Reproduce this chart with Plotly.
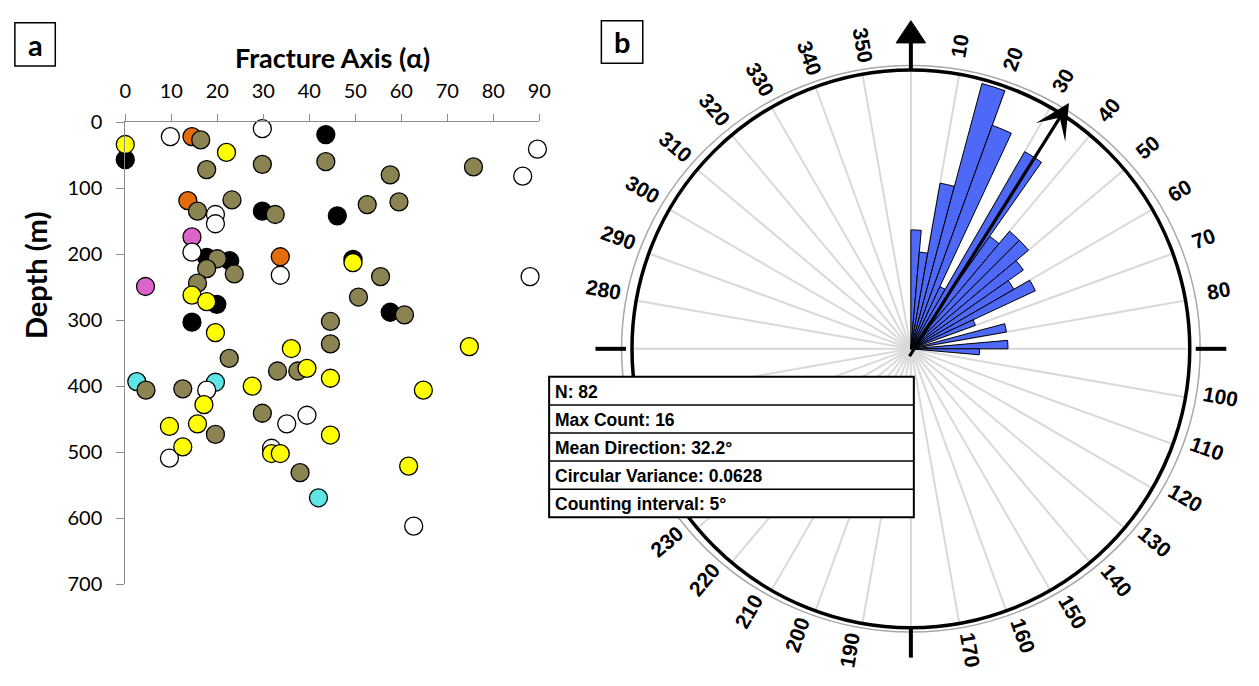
import numpy as np
import plotly.graph_objects as go

W, H = 1259, 686

# ---------------- Panel a data: fracture axis angle (deg) vs depth (m) ----------------
orange_alpha = [14.5, 13.6, 33.7]
orange_depth = [22, 119, 204]
pink_alpha = [14.5, 4.4]
pink_depth = [174, 249]
cyan_alpha = [2.5, 19.6, 42.0]
cyan_depth = [393, 394, 569]
black_alpha = [0, 43.6, 29.8, 46.1, 17.7, 22.7, 49.5, 19.9, 57.6, 14.5]
black_depth = [57, 19, 135, 142, 205, 210, 208, 276, 288, 303]
white_alpha = [9.8, 29.8, 89.6, 86.4, 19.6, 19.6, 14.5, 33.7, 88.0, 17.7, 39.5, 35.1, 9.6, 31.8, 62.7]
white_depth = [22, 10, 41, 82, 140, 154, 197, 232, 234, 406, 444, 457, 509, 494, 612]
olive_alpha = [16.4, 29.8, 43.6, 17.7, 57.6, 75.7, 15.7, 23.2, 32.6, 52.6, 59.5, 20.0, 17.7, 23.7,
               55.5, 15.7, 50.7, 60.7, 44.6, 44.6, 22.6, 33.1, 37.5, 4.5, 12.5, 29.8, 19.6, 38.0]
olive_depth = [27, 64, 60, 72, 80, 68, 135, 118, 140, 125, 121, 207, 222, 230,
               234, 244, 265, 292, 302, 336, 358, 377, 377, 406, 404, 441, 473, 531]
yellow_alpha = [0, 22, 49.5, 14.5, 17.7, 19.6, 74.8, 36.1, 39.5, 44.6, 27.6, 64.8, 17.1, 9.6,
                15.7, 44.6, 12.5, 31.8, 33.7, 61.6]
yellow_depth = [34, 46, 213, 262, 272, 319, 340, 343, 373, 388, 400, 406, 428, 461,
                457, 474, 492, 502, 502, 521]

x_ticks = list(range(0, 91, 10))
y_ticks = list(range(0, 701, 100))

# ---------------- Panel b data: rose diagram (5 deg bins) ----------------
bin_start = list(range(0, 95, 5))
bin_count = [3, 2, 6, 16, 12, 1, 11, 4, 5, 5, 4, 3, 4, 1, 0, 2, 0, 2, 1]
angle_labels = [a for a in range(10, 360, 10) if a not in (90, 180, 270, 240, 250, 260)]
stats_lines = ["N: 82", "Max Count: 16", "Mean Direction: 32.2°",
               "Circular Variance: 0.0628", "Counting interval: 5°"]
mean_direction = 32.2
max_count = 16

# ---------------- helpers ----------------
def px(x):
    return x / W

def py(y):
    return 1 - y / H

fig = go.Figure()

groups = [
    (orange_alpha, orange_depth, "#E46C0A"),
    (pink_alpha, pink_depth, "#DC64C8"),
    (cyan_alpha, cyan_depth, "#5EE6E6"),
    (black_alpha, black_depth, "#000000"),
    (white_alpha, white_depth, "#FFFFFF"),
    (olive_alpha, olive_depth, "#8C8352"),
    (yellow_alpha, yellow_depth, "#FFFF00"),
]
for a, d, c in groups:
    fig.add_trace(go.Scatter(
        x=a, y=d, mode="markers", cliponaxis=False, showlegend=False,
        marker=dict(size=18, color=c, line=dict(color="black", width=1.3)),
        xaxis="x", yaxis="y"))

axis_font = dict(family="Lato", size=20, color="black")
fig.update_layout(
    xaxis=dict(domain=[px(121), px(541)], range=[0, 90], side="top", anchor="y",
               tickvals=x_ticks, showline=True, linecolor="#8c8c8c", linewidth=1,
               ticks="outside", ticklen=7, tickcolor="#8c8c8c", showgrid=False,
               zeroline=False, tickfont=axis_font, ticklabelstandoff=8),
    yaxis=dict(domain=[py(592), py(113)], range=[700, 0], anchor="x",
               tickvals=y_ticks, showline=True, linecolor="#8c8c8c", linewidth=1,
               ticks="outside", ticklen=8, tickcolor="#8c8c8c", showgrid=False,
               zeroline=False, tickfont=axis_font, ticklabelstandoff=10),
)

# ---------------- rose diagram ----------------
cx, cy, R = 918, 348, 289
r_max_px = 284.6  # pixel radius of the max-count bar (equal-area scaling)
theta = [b + 2.5 for b in bin_start]
fig.add_trace(go.Barpolar(
    r=np.sqrt(bin_count), theta=theta, width=[5] * len(bin_count),
    marker=dict(color="#4E68F8", line=dict(color="black", width=1)),
    showlegend=False, subplot="polar"))

fig.update_layout(
    polar=dict(
        domain=dict(x=[px(cx - R), px(cx + R)], y=[py(cy + R), py(cy - R)]),
        bgcolor="white", hole=0,
        radialaxis=dict(visible=False, range=[0, np.sqrt(max_count) * R / r_max_px]),
        angularaxis=dict(rotation=90, direction="clockwise", tickmode="linear",
                         tick0=0, dtick=10, showticklabels=False, ticks="",
                         showgrid=True, gridcolor="#d9d9d9", gridwidth=1.5,
                         showline=True, linecolor="black", linewidth=3.5),
    ),
    bargap=0,
)

shapes = []
ann = []

# outer grey ring
Rg = 293.5
shapes.append(dict(type="circle", xref="paper", yref="paper", layer="above",
                   x0=px(cx - Rg), x1=px(cx + Rg), y0=py(cy + Rg), y1=py(cy - Rg),
                   line=dict(color="#a8a8a8", width=1.5)))
# compass ticks
tl = 31
for (x0, y0, x1, y1) in [(cx + R, cy, cx + R + tl, cy), (cx - R - tl, cy, cx - R, cy),
                         (cx, cy + R, cx, cy + R + tl), (cx, cy - R, cx, cy - R - 30)]:
    shapes.append(dict(type="line", xref="paper", yref="paper", layer="above",
                       x0=px(x0), y0=py(y0), x1=px(x1), y1=py(y1),
                       line=dict(color="black", width=4)))
# north arrow head
tip_y, base_y, hw = 8, 31, 15
shapes.append(dict(type="path", xref="paper", yref="paper", layer="above",
                   path=f"M {px(cx)} {py(tip_y)} L {px(cx - hw)} {py(base_y)} L {px(cx + hw)} {py(base_y)} Z",
                   fillcolor="black", line=dict(color="black", width=1)))

# angle labels
lab_font = dict(family="Liberation Sans", size=21, color="black")
r_lab = 318
for a in angle_labels:
    ap = a - 1.0 if a < 180 else a + 1.2
    t = np.radians(ap)
    x = cx + r_lab * np.sin(t)
    y = cy - r_lab * np.cos(t)
    ta = a - 90 if a < 180 else a - 270
    ann.append(dict(x=px(x), y=py(y), xref="paper", yref="paper", text=f"<b>{a}</b>",
                    showarrow=False, textangle=ta, font=lab_font,
                    xanchor="center", yanchor="middle"))

# mean direction arrow
r_arrow = 301
t = np.radians(mean_direction)
tipx, tipy = cx + r_arrow * np.sin(t), cy - r_arrow * np.cos(t)
ann.append(dict(x=px(tipx), y=py(tipy), xref="paper", yref="paper", text="",
                showarrow=True, ax=cx - tipx, ay=cy - tipy, axref="pixel", ayref="pixel",
                arrowhead=3, arrowsize=1.8, arrowwidth=3.2, arrowcolor="black", standoff=0))

# stats box
bx0, bx1, by0 = 551, 921, 377
row_h = 29.1
shapes.append(dict(type="rect", xref="paper", yref="paper", layer="above",
                   x0=px(bx0), x1=px(bx1), y0=py(by0), y1=py(by0 + row_h * len(stats_lines)),
                   fillcolor="white", line=dict(color="black", width=2)))
for i, s in enumerate(stats_lines):
    if i > 0:
        yy = by0 + row_h * i
        shapes.append(dict(type="line", xref="paper", yref="paper", layer="above",
                           x0=px(bx0), x1=px(bx1), y0=py(yy), y1=py(yy),
                           line=dict(color="black", width=1.5)))
    ann.append(dict(x=px(bx0 + 4), y=py(by0 + row_h * (i + 0.5) + 1), xref="paper", yref="paper",
                    text=f"<b>{s}</b>", showarrow=False, xanchor="left", yanchor="middle",
                    font=dict(family="Liberation Sans", size=17.5, color="black")))

# panel labels
for (x0, y0, x1, y1, lab) in [(9, 10, 50, 55, "a"), (604, 8, 646, 52, "b")]:
    shapes.append(dict(type="rect", xref="paper", yref="paper", layer="above",
                       x0=px(x0), x1=px(x1), y0=py(y1), y1=py(y0),
                       fillcolor="white", line=dict(color="black", width=1.5)))
    ann.append(dict(x=px((x0 + x1) / 2), y=py((y0 + y1) / 2), xref="paper", yref="paper",
                    text=f"<b>{lab}</b>", showarrow=False, xanchor="center", yanchor="middle",
                    font=dict(family="Lato", size=29, color="black")))

# axis titles for panel a
ann.append(dict(x=px(331), y=py(46), xref="paper", yref="paper", text="<b>Fracture Axis (α)</b>",
                showarrow=False, xanchor="center", yanchor="middle",
                font=dict(family="Lato", size=27, color="black")))
ann.append(dict(x=px(30), y=py(272), xref="paper", yref="paper", text="<b>Depth (m)</b>",
                showarrow=False, textangle=-90, xanchor="center", yanchor="middle",
                font=dict(family="Lato", size=29, color="black")))

fig.update_layout(width=W, height=H, margin=dict(l=0, r=0, t=0, b=0),
                  paper_bgcolor="white", plot_bgcolor="white",
                  shapes=shapes, annotations=ann)

fig.write_html("out.html",
               post_script="document.body.style.margin='0px';document.body.style.overflow='hidden';")
